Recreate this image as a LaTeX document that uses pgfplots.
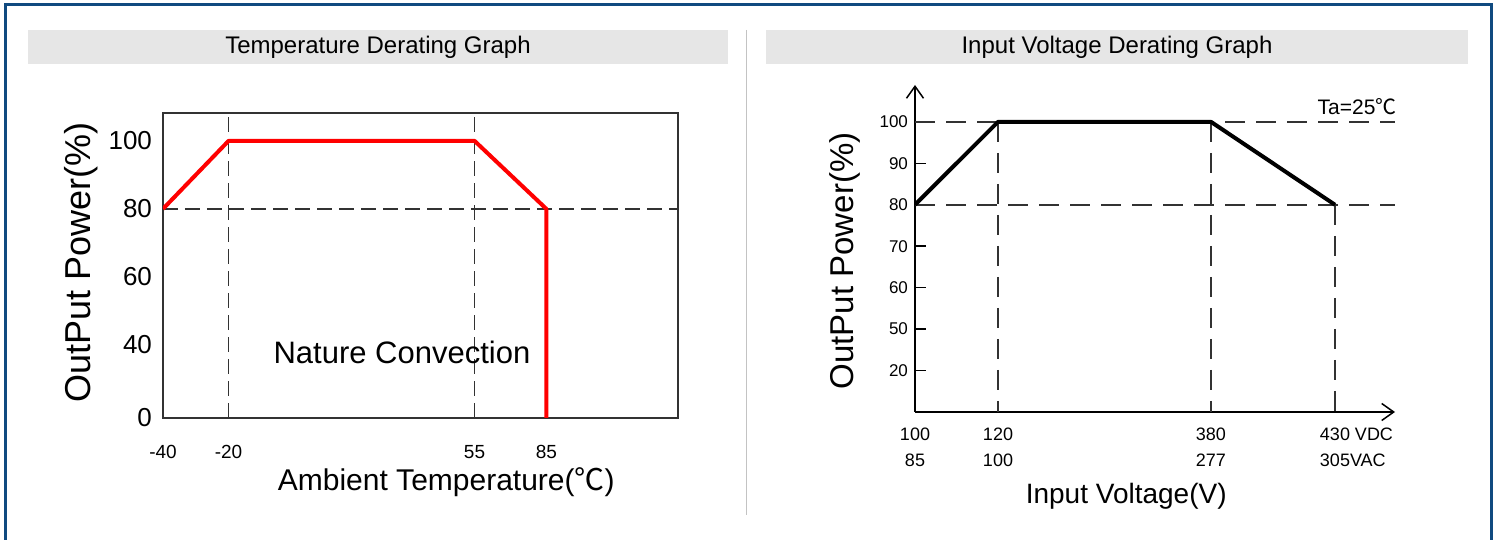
\documentclass[border=0pt]{standalone}
\usepackage{fontspec}
\setmainfont{Liberation Sans}
\newfontfamily\cjk{Noto Sans CJK SC}
\usepackage{pgfplots}
\pgfplotsset{compat=1.18}
\usetikzlibrary{arrows.meta}

\definecolor{frameblue}{RGB}{16,74,128}
\definecolor{barfill}{RGB}{230,230,230}
\definecolor{divider}{RGB}{195,195,195}
\definecolor{dashgray}{RGB}{50,50,50}
\definecolor{boxgray}{RGB}{50,50,50}
\newcommand{\degC}{{\cjk ℃}}
\newcommand{\fs}[1]{\fontsize{#1}{1.2\dimexpr#1pt\relax}\selectfont}

\begin{document}
\begin{tikzpicture}
% page frame, title bars, divider (1 px = 0.5 pt, y from the top)
\begin{scope}[shift={(0pt,270pt)}, x=0.5pt, y=-0.5pt]
  \useasboundingbox (0,0) rectangle (1499,540);
  \draw[frameblue, line width=1.3pt] (5.5,540) -- (5.5,4.5) -- (1491.5,4.5) -- (1491.5,540);
  \fill[barfill] (28,30) rectangle (728,64);
  \fill[barfill] (766,30) rectangle (1468,64);
  \node[font=\fs{12}] at (378,47) {Temperature Derating Graph};
  \node[font=\fs{12}] at (1117,47) {Input Voltage Derating Graph};
  \draw[divider, line width=0.5pt] (746,30) -- (746,515);
\end{scope}

% temperature derating
\begin{axis}[
  at={(81.5pt,61pt)}, anchor=south west,
  scale only axis, width=257.5pt, height=152.5pt,
  x coord trafo/.code={\pgfmathparse{#1<=55 ? #1 : 55+(#1-55)*0.73}},
  y coord trafo/.code={\pgfmathparse{#1>=40 ? #1 : 18.5+#1*0.5375}},
  xmin=-40, xmax=140, ymin=0, ymax=108.2,
  xtick={-40,-20,55,85}, xticklabels={-40,-20,55,85},
  ytick={0,40,60,80,100}, yticklabels={0,40,60,80,100},
  extra x ticks={-20,55}, extra x tick labels={},
  extra y ticks={80}, extra y tick labels={},
  extra tick style={grid=major},
  major grid style={dashgray, line width=0.8pt, dash pattern=on 7.5pt off 3.5pt},
  major tick length=0pt,
  axis line style={boxgray, line width=0.8pt},
  xticklabel style={font=\fs{9.5}, yshift=-10pt},
  yticklabel style={font=\fs{13}, xshift=-2pt},
  xlabel={Ambient Temperature(\degC)},
  xlabel style={font=\fs{15}, at={(axis description cs:0.55,-0.21)}, anchor=center},
  ylabel={OutPut Power(\%)},
  ylabel style={font=\fs{18}, at={(axis description cs:-0.159,0.51)}, anchor=center},
]
  \addplot[red, line width=2pt, line join=round] coordinates {
    (-40,80) (-20,100) (55,100) (85,80) (85,0)
  };
  \node[font=\fs{15.5}] at (rel axis cs:0.464,0.216) {Nature Convection};
\end{axis}

% input voltage derating
\begin{axis}[
  at={(457.5pt,64pt)}, anchor=south west,
  scale only axis, width=240pt, height=163.5pt,
  axis lines=left,
  axis line style={black, line width=0.75pt, -{Straight Barb[length=6pt,width=8.5pt]}},
  x coord trafo/.code={\pgfmathparse{#1<=120 ? (#1-100)*4.15 : (#1<=380 ? 83+(#1-120)*0.8192 : 296+(#1-380)*2.48)}},
  y coord trafo/.code={\pgfmathparse{#1>=50 ? #1 : 40+(#1-20)/3}},
  xmin=100, xmax=454.2, ymin=-10, ymax=108.9,
  xtick={100,120,380,430},
  xticklabels={{100\\85},{120\\100},{380\\277},{430\rlap{\ VDC}\\305\rlap{VAC}}},
  xticklabel style={font=\fontsize{9}{13}\selectfont, align=center, yshift=-4.5pt},
  xtick style={draw=none},
  ytick={20,50,60,70,80,90,100}, yticklabels={20,50,60,70,80,90,100},
  yticklabel style={font=\fs{8.5}},
  ytick style={black, line width=0.75pt},
  tick align=inside, major tick length=5.5pt,
  xlabel={Input Voltage(V)},
  xlabel style={font=\fs{14}, at={(axis description cs:0.44,-0.257)}, anchor=center},
  ylabel={OutPut Power(\%)},
  ylabel style={font=\fs{16.5}, at={(axis description cs:-0.146,0.462)}, anchor=center},
]
  \addplot[dashgray, line width=0.75pt, dash pattern=on 10pt off 5.5pt] coordinates {(100,100) (454.2,100)};
  \addplot[dashgray, line width=0.75pt, dash pattern=on 10pt off 5.5pt] coordinates {(100,80) (454.2,80)};
  \addplot[dashgray, line width=0.75pt, dash pattern=on 10pt off 5.5pt] coordinates {(120,100) (120,-10)};
  \addplot[dashgray, line width=0.75pt, dash pattern=on 10pt off 5.5pt] coordinates {(380,100) (380,-10)};
  \addplot[dashgray, line width=0.75pt, dash pattern=on 10pt off 5.5pt] coordinates {(430,80) (430,-10)};
  \addplot[black, line width=2pt, line join=round] coordinates {
    (100,80) (120,100) (380,100) (430,80)
  };
  \node[font=\fs{10.5}] at (rel axis cs:0.921,0.933) {Ta=25\degC};
\end{axis}
\end{tikzpicture}
\end{document}
